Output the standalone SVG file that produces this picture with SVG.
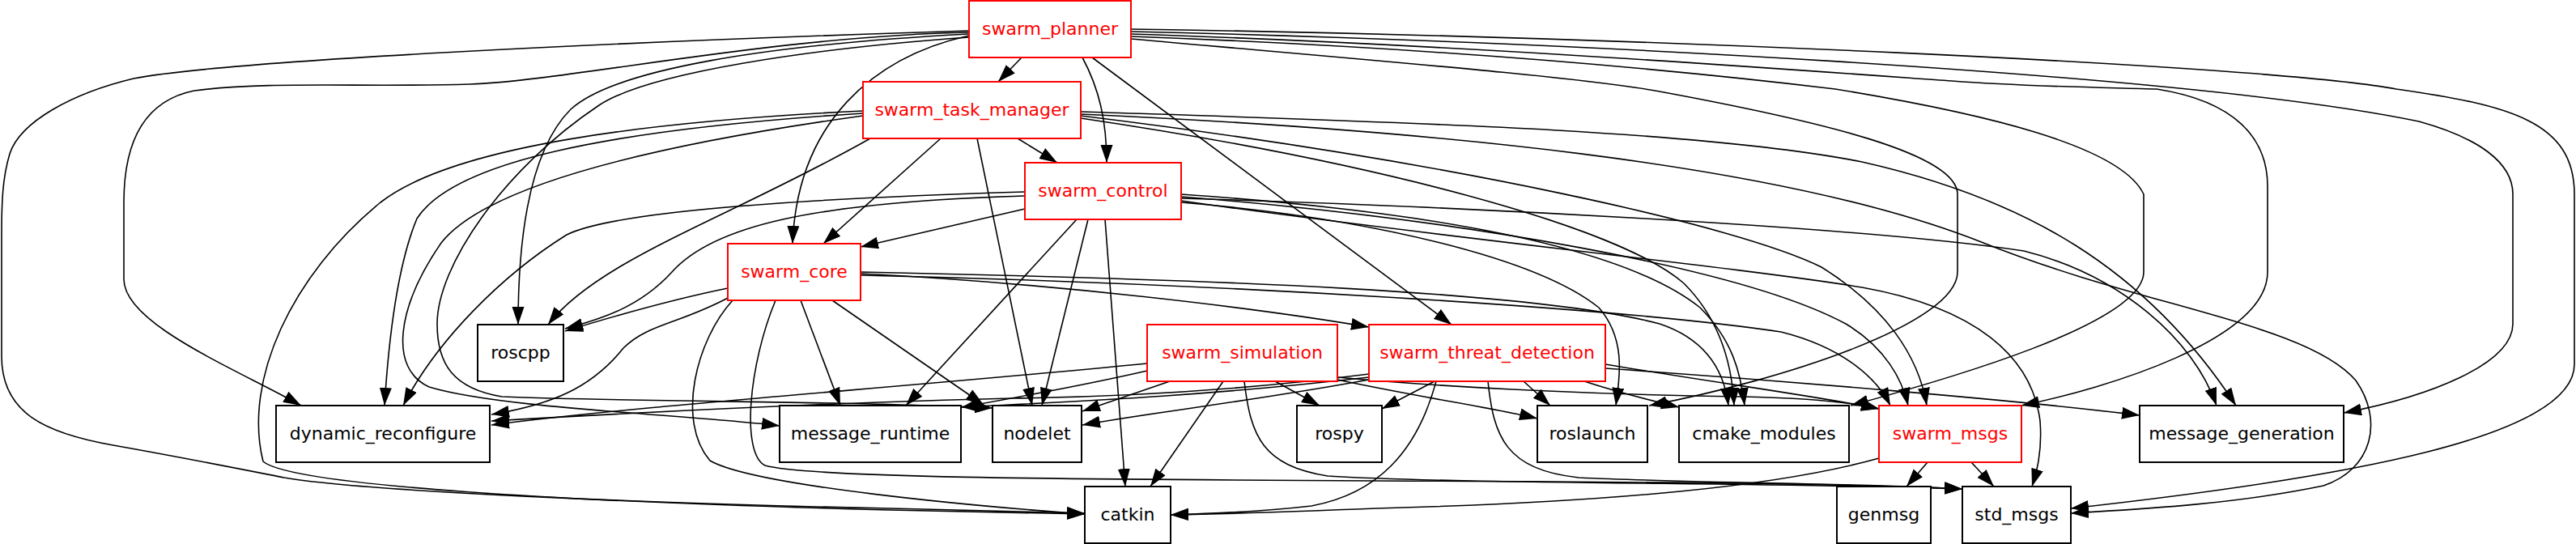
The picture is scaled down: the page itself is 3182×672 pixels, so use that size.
<svg xmlns="http://www.w3.org/2000/svg" width="3182" height="672" viewBox="0 0 3182 672">
<style>
.n rect{fill:#fff;stroke:#000;stroke-width:2}
.n text{font-family:"DejaVu Sans",sans-serif;font-size:22px;text-anchor:middle;fill:#000}
.r rect{stroke:#ff0000}
.r text{fill:#ff0000}
#edges path{fill:none;stroke:#000;stroke-width:1.6;marker-end:url(#ah)}
</style>
<defs>
<marker id="ah" markerUnits="userSpaceOnUse" markerWidth="22" markerHeight="16" refX="22" refY="7.5" orient="auto">
<path d="M0,0 L22,7.5 L0,15 z" fill="#000"/>
</marker>
</defs>
<rect width="3182" height="672" fill="#fff"/>
<g id="edges">
<path d="M1262,71 L1233,101"/>
<path d="M1337,71 C1358,110 1367,150 1367,201"/>
<path d="M1349,71 L1793,401"/>
<path d="M1197,44 C1080,70 985,150 979,301"/>
<path d="M1197,42 C950,55 760,85 705,135 C655,185 640,290 640,401"/>
<path d="M1197,40 C950,45 700,100 580,104 C450,108 330,100 240,112 C175,125 153,180 153,250 L153,345 C153,400 290,455 372,501"/>
<path d="M1197,38 C750,52 280,75 165,97 C90,115 25,150 12,190 C3,220 2,250 2,290 L2,440 C2,510 55,535 140,550 C230,566 290,578 351,590 C450,607 800,622 1100,628 C1200,631 1290,633 1340,634"/>
<path d="M1197,46 C1000,60 800,90 740,130 C620,210 540,330 540,400 C540,450 560,480 620,490 C800,497 1050,495 1226,504"/>
<path d="M1397,36 C2000,45 2800,80 2960,110 C3100,130 3180,150 3180,240 L3180,450 C3180,540 2900,590 2558,628"/>
<path d="M1397,39 C1900,50 2700,90 2988,150 C3060,170 3104,200 3104,240 L3104,400 C3104,450 3000,490 2895,510"/>
<path d="M1397,42 C1800,55 2200,85 2411,100 C2500,107 2600,108 2664,110 C2760,125 2801,170 2801,230 L2801,336 C2801,420 2600,480 2497,501"/>
<path d="M1397,45 C1800,60 2100,90 2267,110 C2450,140 2620,180 2648,240 L2648,336 C2648,400 2400,470 2286,501"/>
<path d="M1397,48 C1700,75 1950,95 2050,113 C2250,150 2418,190 2418,240 L2418,336 C2418,400 2200,470 2037,501"/>
<path d="M1257,171 L1306,201"/>
<path d="M1162,171 L1017,301"/>
<path d="M1075,171 C900,270 740,320 677,401"/>
<path d="M1207,171 L1275,501"/>
<path d="M1066,137 C800,150 560,180 470,250 C360,340 300,470 325,570 C360,600 700,620 1100,630 C1200,632 1290,634 1340,635"/>
<path d="M1066,140 C750,160 560,200 515,270 C490,330 480,420 475,501"/>
<path d="M1066,143 C800,180 600,230 545,300 C490,380 480,455 530,478 C620,505 850,512 963,526"/>
<path d="M1335,138 C1700,150 2100,160 2300,200 C2500,245 2650,330 2762,501"/>
<path d="M1335,141 C1750,160 2200,200 2450,300 C2650,380 2850,400 2910,470 C2945,520 2930,580 2870,600 C2750,625 2620,630 2558,634"/>
<path d="M1335,143 C1800,200 2150,280 2250,330 C2330,380 2370,440 2380,501"/>
<path d="M1335,146 C1700,200 2000,280 2080,350 C2130,400 2140,460 2142,501"/>
<path d="M1266,258 L1063,305"/>
<path d="M1266,242 C1000,250 880,280 830,336 C790,380 740,395 698,406"/>
<path d="M1266,237 C1000,245 760,260 700,290 C620,340 540,420 498,501"/>
<path d="M1330,271 L1119,501"/>
<path d="M1344,271 L1287,501"/>
<path d="M1365,271 L1390,601"/>
<path d="M1459,240 C1750,260 2000,300 2100,380 C2140,420 2150,460 2155,501"/>
<path d="M1459,243 C1800,270 2150,330 2280,400 C2330,430 2350,470 2357,501"/>
<path d="M1459,245 C1800,255 2300,280 2500,310 C2620,340 2710,420 2738,501"/>
<path d="M1459,248 C1750,290 2150,330 2300,355 C2440,380 2510,440 2520,520 C2523,560 2515,585 2510,601"/>
<path d="M1459,250 C1700,270 1900,320 1975,380 C2010,420 2000,470 1996,501"/>
<path d="M899,356 C830,370 760,390 698,409"/>
<path d="M901,367 C840,400 800,400 770,430 C730,480 680,500 607,512"/>
<path d="M905,371 C860,420 835,520 877,569 C930,600 1200,625 1340,635"/>
<path d="M958,371 C925,450 915,560 945,575 C1000,590 1300,592 1700,594 C2000,595 2300,597 2424,604"/>
<path d="M989,371 L1038,501"/>
<path d="M1028,371 L1215,500"/>
<path d="M1063,338 C1300,350 1550,380 1691,404"/>
<path d="M1063,336 C1500,345 1900,360 2050,400 C2110,420 2130,460 2135,501"/>
<path d="M1063,340 C1500,350 2000,380 2200,410 C2280,430 2320,470 2335,501"/>
<path d="M1417,449 C1100,480 800,500 607,525"/>
<path d="M1417,458 C1330,478 1250,492 1188,503"/>
<path d="M1445,471 L1337,508"/>
<path d="M1511,471 L1421,601"/>
<path d="M1575,471 L1630,501"/>
<path d="M1537,471 C1545,540 1560,575 1640,588 C1800,598 2200,596 2424,604"/>
<path d="M1652,469 C1750,490 1850,505 1899,517"/>
<path d="M1652,466 C1800,480 2000,488 2150,490 C2250,492 2300,500 2321,505"/>
<path d="M1691,462 C1550,480 1400,490 1250,492 C1000,498 780,510 607,520"/>
<path d="M1691,466 C1500,488 1350,495 1188,503"/>
<path d="M1691,469 C1550,495 1420,510 1337,525"/>
<path d="M1772,471 L1707,505"/>
<path d="M1774,471 C1750,560 1700,610 1620,625 C1550,633 1480,635 1446,636"/>
<path d="M1838,471 C1845,540 1860,580 1950,590 C2100,597 2300,597 2424,604"/>
<path d="M1882,471 L1915,501"/>
<path d="M1957,471 C2000,485 2040,495 2074,503"/>
<path d="M1983,450 C2100,470 2250,490 2321,505"/>
<path d="M1983,455 C2200,470 2500,495 2643,513"/>
<path d="M2321,566 C2200,600 2000,620 1700,628 C1600,632 1500,635 1446,636"/>
<path d="M2381,571 L2355,601"/>
<path d="M2435,571 L2463,601"/>
</g>
<g id="swarm_planner" class="n r"><rect x="1197" y="1" width="200" height="70"/><text x="1297" y="43">swarm_planner</text></g>
<g id="swarm_task_manager" class="n r"><rect x="1066" y="101" width="269" height="70"/><text x="1200.5" y="143">swarm_task_manager</text></g>
<g id="swarm_control" class="n r"><rect x="1266" y="201" width="193" height="70"/><text x="1362.5" y="243">swarm_control</text></g>
<g id="swarm_core" class="n r"><rect x="899" y="301" width="164" height="70"/><text x="981" y="343">swarm_core</text></g>
<g id="roscpp" class="n"><rect x="590" y="401" width="106" height="70"/><text x="643" y="443">roscpp</text></g>
<g id="swarm_simulation" class="n r"><rect x="1417" y="401" width="235" height="70"/><text x="1534.5" y="443">swarm_simulation</text></g>
<g id="swarm_threat_detection" class="n r"><rect x="1691" y="401" width="292" height="70"/><text x="1837" y="443">swarm_threat_detection</text></g>
<g id="dynamic_reconfigure" class="n"><rect x="341" y="501" width="264" height="70"/><text x="473" y="543">dynamic_reconfigure</text></g>
<g id="message_runtime" class="n"><rect x="963" y="501" width="224" height="70"/><text x="1075" y="543">message_runtime</text></g>
<g id="nodelet" class="n"><rect x="1226" y="501" width="110" height="70"/><text x="1281" y="543">nodelet</text></g>
<g id="rospy" class="n"><rect x="1602" y="501" width="105" height="70"/><text x="1654.5" y="543">rospy</text></g>
<g id="roslaunch" class="n"><rect x="1899" y="501" width="136" height="70"/><text x="1967" y="543">roslaunch</text></g>
<g id="cmake_modules" class="n"><rect x="2074" y="501" width="210" height="70"/><text x="2179" y="543">cmake_modules</text></g>
<g id="swarm_msgs" class="n r"><rect x="2321" y="501" width="176" height="70"/><text x="2409" y="543">swarm_msgs</text></g>
<g id="message_generation" class="n"><rect x="2643" y="501" width="252" height="70"/><text x="2769" y="543">message_generation</text></g>
<g id="catkin" class="n"><rect x="1340" y="601" width="106" height="70"/><text x="1393" y="643">catkin</text></g>
<g id="genmsg" class="n"><rect x="2269" y="601" width="116" height="70"/><text x="2327" y="643">genmsg</text></g>
<g id="std_msgs" class="n"><rect x="2424" y="601" width="134" height="70"/><text x="2491" y="643">std_msgs</text></g>
</svg>
